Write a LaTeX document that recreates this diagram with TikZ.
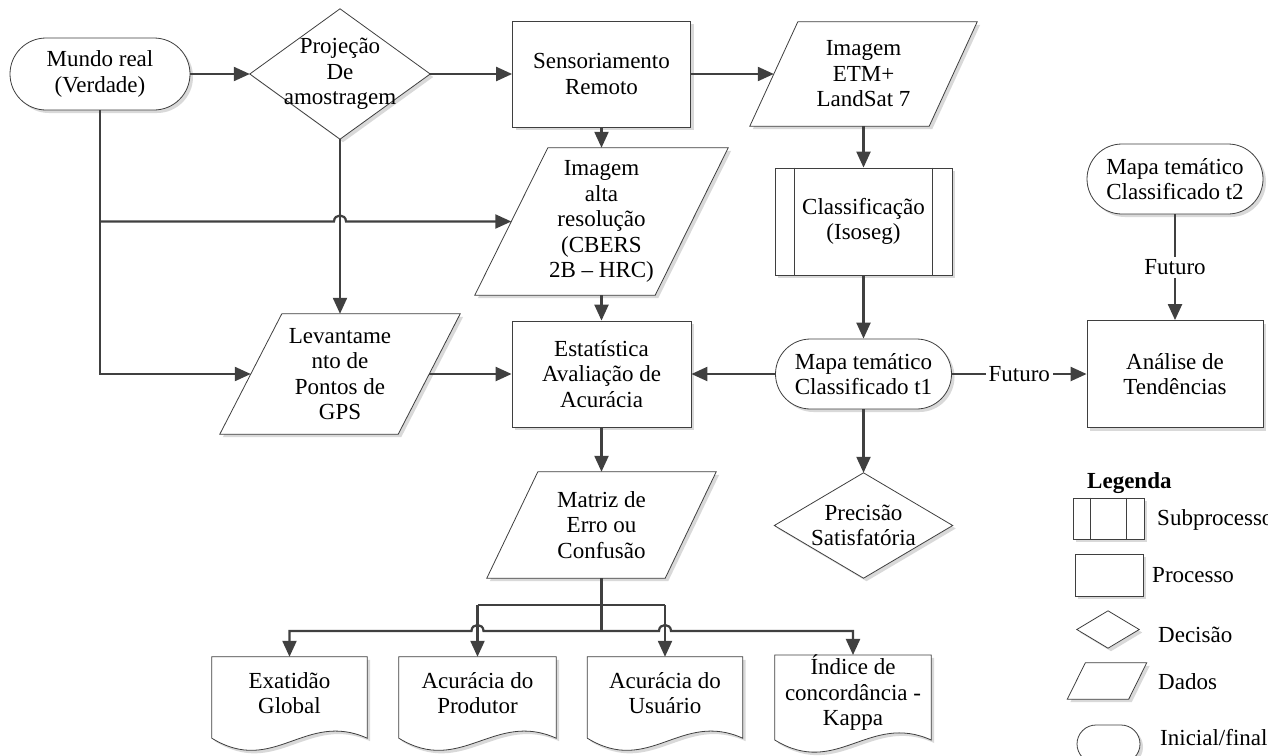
\documentclass[tikz,border=0pt]{standalone}
\usepackage{fontspec}
\setmainfont{Liberation Serif}
\usetikzlibrary{arrows.meta,shapes.misc,shadows,calc,backgrounds}
\definecolor{lc}{HTML}{3F3F3F}
\definecolor{cc}{HTML}{404040}
\newcommand\fsz{\fontsize{23pt}{25.5pt}\selectfont}
\newcommand\mkparal[2]{\draw[outline] ($(#1.north west)+(#2,0)$) -- ($(#1.north east)+(#2,0)$) -- ($(#1.south east)+(-#2,0)$) -- ($(#1.south west)+(-#2,0)$) -- cycle;}
\newcommand\mkdiam[1]{\draw[outline] (#1.west) -- (#1.north) -- (#1.east) -- (#1.south) -- cycle;}
\newcommand\mkdoc[1]{\draw[outline] (#1.north west) -- (#1.north east) -- ($(#1.south east)+(0,9)$) .. controls ($(#1.south east)+(-62,-19)$) and ($(#1.south west)+(62,47)$) .. ($(#1.south west)+(0,9)$) -- cycle;}
\begin{document}
\begin{tikzpicture}[x=1pt,y=-1pt,
  dropsh/.style={drop shadow={shadow xshift=3pt,shadow yshift=-3pt,fill=black!15,opacity=1}},
  base/.style={inner sep=0pt,align=center,font=\fsz,text=black},
  proc/.style={base,rectangle,draw=lc,line width=0.8pt,fill=white,dropsh},
  term/.style={base,rounded rectangle,draw=lc,line width=0.8pt,fill=white,dropsh},
  txt/.style={base,rectangle},
  outline/.style={draw=lc,line width=0.8pt,fill=white,dropsh},
  conn/.style={draw=cc,line width=2.2pt},
  arr/.style={conn,-{Triangle[length=16pt,width=14pt]}},
  arrboth/.style={conn,{Triangle[length=16pt,width=14pt]}-{Triangle[length=16pt,width=14pt]}},
  lab/.style={base,fill=white,inner sep=3pt},
  sub/.style={draw=lc,line width=0.8pt}]
\useasboundingbox (0,0) rectangle (1268,755);

% ---- main nodes ----
\node[term,minimum width=180pt,minimum height=72pt] (mundo) at (100,74) {Mundo real\\(Verdade)};
\node[txt,minimum width=180pt,minimum height=130pt] (proj) at (340,74) {Projeção\\De\\amostragem};
\node[proc,minimum width=178pt,minimum height=106pt] (sens) at (601.5,74) {Sensoriamento\\Remoto};
\node[txt,minimum width=179pt,minimum height=104pt] (etm) at (863.5,74) {Imagem\\ETM+\\LandSat 7};
\node[txt,minimum width=180pt,minimum height=147pt] (alta) at (601.5,221.5) {Imagem\\alta\\resolução\\(CBERS\\2B – HRC)};
\node[proc,minimum width=177pt,minimum height=107pt] (class) at (863.5,221.5) {Classificação\\(Isoseg)};
\node[term,minimum width=176pt,minimum height=70pt] (mapa2) at (1175,179) {Mapa temático\\Classificado t2};
\node[txt,minimum width=178pt,minimum height=120pt] (lev) at (340,374) {Levantame\\nto de\\Pontos de\\GPS};
\node[proc,minimum width=179pt,minimum height=106pt] (est) at (601.5,374) {Estatística\\Avaliação de\\Acurácia};
\node[term,minimum width=176pt,minimum height=70pt] (mapa1) at (863.5,374) {Mapa temático\\Classificado t1};
\node[proc,minimum width=176pt,minimum height=107pt] (anal) at (1175,374) {Análise de\\Tendências};
\node[txt,minimum width=178pt,minimum height=105pt] (prec) at (863.5,525.5) {Precisão\\Satisfatória};
\node[txt,minimum width=178pt,minimum height=106pt] (mat) at (601.5,525) {Matriz de\\Erro ou\\Confusão};
\node[txt,minimum width=155pt,minimum height=72pt] (exat) at (289.5,693) {Exatidão\\Global};
\node[txt,minimum width=157pt,minimum height=72pt] (prod) at (477.5,693) {Acurácia do\\Produtor};
\node[txt,minimum width=155pt,minimum height=72pt] (usu) at (665,693) {Acurácia do\\Usuário};
\node[txt,minimum width=156pt,minimum height=72pt] (kappa) at (853,693) {Índice de\\concordância -\\Kappa};

% subprocess inner lines
\draw[sub] ($(class.north west)+(20,0)$) -- ($(class.south west)+(20,0)$);
\draw[sub] ($(class.north east)+(-20,0)$) -- ($(class.south east)+(-20,0)$);

% ---- legend ----
\node[base,font=\fsz\bfseries,anchor=west] (legtitle) at (1087,483) {Legenda};
\node[proc,minimum width=71pt,minimum height=41pt] (lsub) at (1108.5,518.5) {};
\draw[sub] ($(lsub.north west)+(18,0)$) -- ($(lsub.south west)+(18,0)$);
\draw[sub] ($(lsub.north east)+(-18,0)$) -- ($(lsub.south east)+(-18,0)$);
\node[base,anchor=west] (lsubt) at (1157,520) {Subprocesso};
\node[proc,minimum width=68pt,minimum height=42pt] (lproc) at (1109,575) {};
\node[base,anchor=west] (lproct) at (1152,575) {Processo};
\node[txt,minimum width=62pt,minimum height=37pt] (ldec) at (1108,629.5) {};
\node[base,anchor=west] (ldect) at (1158,635) {Decisão};
\node[txt,minimum width=61pt,minimum height=36pt] (ldat) at (1107,681) {};
\node[base,anchor=west] (ldatt) at (1158,682) {Dados};
\node[term,minimum width=63pt,minimum height=38pt] (lterm) at (1108.5,744) {};
\node[base,anchor=west] (ltermt) at (1160,738) {Inicial/final};

% ---- custom outlines ----
\begin{scope}[on background layer]
  \mkdiam{proj}
  \mkdiam{prec}
  \mkdiam{ldec}
  \mkparal{etm}{24}
  \mkparal{alta}{36.5}
  \mkparal{lev}{31}
  \mkparal{mat}{25.5}
  \mkparal{ldat}{9}
  \mkdoc{exat}
  \mkdoc{prod}
  \mkdoc{usu}
  \mkdoc{kappa}
\end{scope}

% ---- connectors ----
\coordinate (ju) at (601.5,605);
\coordinate (jb) at (601.5,631);
\draw[arr] (mundo.east) -- (proj.west);
\draw[arr] (proj.east) -- (sens.west);
\draw[arr] (sens.east) -- (etm.west);
\draw[arr] (sens.south) -- (alta.north);
\draw[arr] (etm.south) -- (class.north);
\draw[arr] (class.south) -- (mapa1.north);
\draw[arr] (mapa1.west) -- (est.east);
\draw[arr] (mapa1.east) -- node[lab] {Futuro} (anal.west);
\draw[arr] (mapa2.south) -- node[lab] {Futuro} (anal.north);
\draw[arr] (mapa1.south) -- (prec.north);
\draw[arr] (alta.south) -- (est.north);
\draw[arr] (proj.south) -- (lev.north);
\draw[arr] (mundo.south) -- (mundo.south |- lev.west) -- (lev.west);
\draw[arr] (mundo.south |- alta.west) -- ($(proj.south |- alta.west)+(-6,0)$) .. controls +(0,-8) and +(0,-8) .. ($(proj.south |- alta.west)+(6,0)$) -- (alta.west);
\draw[arr] (lev.east) -- (est.west);
\draw[arr] (est.south) -- (mat.north);
\draw[conn] (mat.south) -- (jb);
\draw[conn] (prod.north |- ju) -- (usu.north |- ju);
\draw[arr] (prod.north |- ju) -- (prod.north);
\draw[arr] (usu.north |- ju) -- (usu.north);
\draw[arrboth] (exat.north) -- (exat.north |- jb) -- ($(prod.north |- jb)+(-6,0)$) .. controls +(0,-8) and +(0,-8) .. ($(prod.north |- jb)+(6,0)$) -- ($(usu.north |- jb)+(-6,0)$) .. controls +(0,-8) and +(0,-8) .. ($(usu.north |- jb)+(6,0)$) -- (kappa.north |- jb) -- (kappa.north);
\end{tikzpicture}
\end{document}
